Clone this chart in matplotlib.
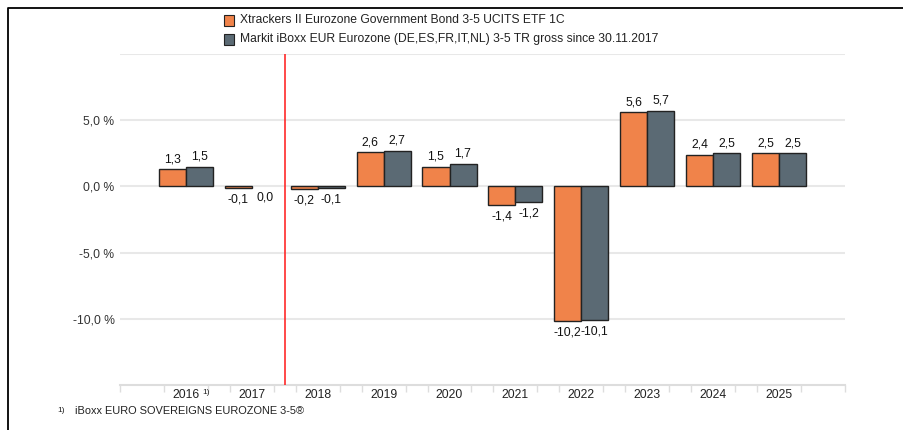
import numpy as np
import matplotlib.pyplot as plt
from matplotlib.lines import Line2D
from matplotlib.patches import Rectangle

plt.rcParams['font.family'] = ['Liberation Sans', 'DejaVu Sans']

years = ["2016", "2017", "2018", "2019", "2020", "2021", "2022", "2023", "2024", "2025"]
etf = [1.3, -0.1, -0.2, 2.6, 1.5, -1.4, -10.2, 5.6, 2.4, 2.5]
index = [1.5, 0.0, -0.1, 2.7, 1.7, -1.2, -10.1, 5.7, 2.5, 2.5]
etf_name = "Xtrackers II Eurozone Government Bond 3-5 UCITS ETF 1C"
index_name = "Markit iBoxx EUR Eurozone (DE,ES,FR,IT,NL) 3-5 TR gross since 30.11.2017"
yticks = [-10, -5, 0, 5]

orange = "#F0834A"
slate = "#5B6A74"
txt = "#222222"

fig = plt.figure(figsize=(9.04, 4.30), dpi=100)
ax = fig.add_axes([0.1327, 0.1047, 0.8020, 0.7697])

x = np.arange(len(years))
w = 0.41
for xs, vals, col in ((x - w / 2, etf, orange), (x + w / 2, index, slate)):
    lw = [1.0 if v != 0 else 0 for v in vals]
    ax.bar(xs, vals, w, color=col, edgecolor="#222222", linewidth=lw, zorder=3)
    # value labels
    for xi, v in zip(xs, vals):
        s = ("%.1f" % v).replace(".", ",")
        if v > 0:
            ax.text(xi, v + 0.3, s, ha="center", va="bottom", fontsize=8.7, color="#111111")
        else:
            ax.text(xi, v - 0.4, s, ha="center", va="top", fontsize=8.7, color="#111111")

ax.set_xlim(-1, 10)
ax.set_ylim(-15, 10)
for g in [10, 5, 0, -5, -10]:
    ax.axhline(g, color="#e8e8e8", linewidth=1.5, zorder=1)
ax.axvline(1.5, color="#ff2a2a", linewidth=1.2, zorder=4)

for sp in ["top", "right", "left"]:
    ax.spines[sp].set_visible(False)
ax.spines["bottom"].set_color("#dddddd")
ax.spines["bottom"].set_linewidth(1.5)

ax.set_yticks(yticks)
ax.set_yticklabels([("%.1f %%" % t).replace(".", ",") for t in yticks], fontsize=8.7, color="#333333")
ax.tick_params(axis="y", length=0, pad=4)

ax.set_xticks(x)
ax.set_xticklabels(years, fontsize=8.7, color="#222222")
ax.tick_params(axis="x", length=0, pad=3)
minor = [-1, 10] + [v for i in x for v in (i - 1 / 3, i + 1 / 3)]
ax.set_xticks(minor, minor=True)
ax.tick_params(axis="x", which="minor", length=5, color="#dddddd", width=1)

# footnote markers
ax.text(0.25, -15.3, "1)", fontsize=6, color=txt, va="top", ha="left")
fig.text(0.063, 0.045, "1)", fontsize=6, color=txt, va="center", ha="left")
fig.text(0.083, 0.045, "iBoxx EURO SOVEREIGNS EUROZONE 3-5®", fontsize=7.9, color=txt,
         va="center", ha="left")

# legend
for yy, col, name in ((0.953, orange, etf_name), (0.909, slate, index_name)):
    fig.patches.append(Rectangle((0.2475, yy - 0.013), 0.0115, 0.026, transform=fig.transFigure,
                                 facecolor=col, edgecolor="#222222", linewidth=0.8))
    fig.text(0.2655, yy, name, fontsize=8.7, color=txt, va="center", ha="left")

# outer frame
fig.lines.append(Line2D([0.009, 0.009, 1.0], [0.0, 0.981, 0.981], transform=fig.transFigure,
                        color="black", linewidth=1.3))

fig.savefig("out.png", dpi=100)
